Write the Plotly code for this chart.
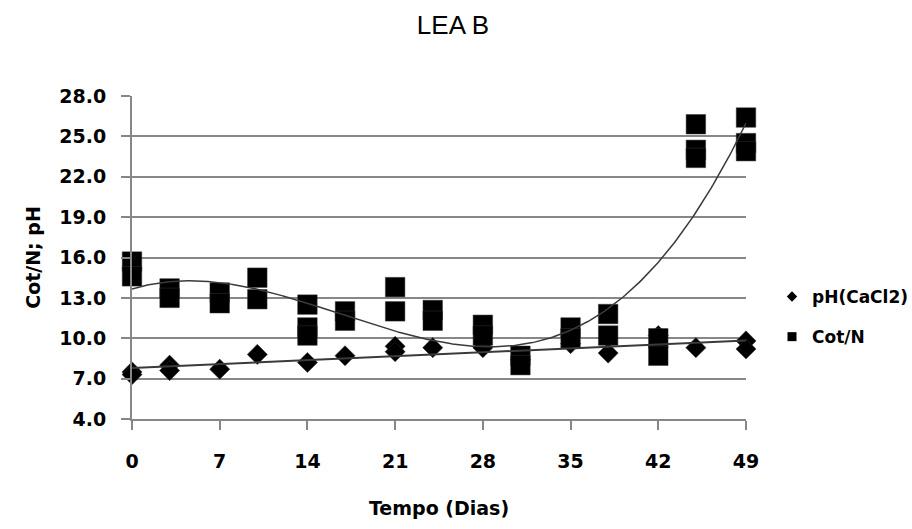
import numpy as np
import plotly.graph_objects as go

# Sampling days and replicate readings (flat lists: one entry per measurement)
ph_days = [0, 0, 3, 3, 7, 10, 14, 17, 21, 21, 24, 28, 31, 35, 38, 42, 45, 49, 49]
ph_vals = [7.5, 7.3, 8.0, 7.6, 7.7, 8.8, 8.2, 8.7, 9.4, 9.0, 9.3, 9.3, 8.4, 9.6, 8.9, 10.2, 9.3, 9.8, 9.2]

cotn_days = [0, 0, 3, 3, 7, 7, 10, 10, 14, 14, 14, 17, 17, 21, 21, 24, 24, 28, 28,
             31, 31, 35, 35, 38, 38, 42, 42, 45, 45, 45, 49, 49, 49]
cotn_vals = [15.7, 14.6, 13.7, 13.0, 13.4, 12.6, 14.5, 12.9, 12.5, 10.8, 10.2, 12.0, 11.3,
             13.8, 12.0, 12.1, 11.3, 11.0, 10.2, 8.7, 8.0, 10.8, 10.0, 11.8, 10.2, 10.0, 8.7,
             25.9, 24.0, 23.4, 26.4, 24.5, 23.9]

x_ticks = [0, 7, 14, 21, 28, 35, 42, 49]
y_ticks = [4.0, 7.0, 10.0, 13.0, 16.0, 19.0, 22.0, 25.0, 28.0]

PH_TREND_DEG = 1
COTN_TREND_DEG = 3

# Polynomial trend lines fitted to the measurements
xs = np.linspace(0, 49, 300)
ph_fit = np.polyval(np.polyfit(ph_days, ph_vals, PH_TREND_DEG), xs)
cotn_fit = np.polyval(np.polyfit(cotn_days, cotn_vals, COTN_TREND_DEG), xs)

GRID = "#878787"
TICK_FONT = dict(family="DejaVu Sans", size=19, color="black", weight="bold")

fig = go.Figure()

fig.add_trace(go.Scatter(x=ph_days, y=ph_vals, mode="markers", showlegend=False,
                         marker=dict(symbol="diamond", size=15.5, color="black",
                                     line=dict(width=0.5, color="#333333")),
                         cliponaxis=False))
fig.add_trace(go.Scatter(x=cotn_days, y=cotn_vals, mode="markers", showlegend=False,
                         marker=dict(symbol="square", size=19.5, color="black",
                                     line=dict(width=0.5, color="#333333")),
                         cliponaxis=False))
fig.add_trace(go.Scatter(x=xs, y=ph_fit, mode="lines", showlegend=False,
                         line=dict(color="#3a3a3a", width=2), hoverinfo="skip"))
fig.add_trace(go.Scatter(x=xs, y=cotn_fit, mode="lines", showlegend=False,
                         line=dict(color="#3a3a3a", width=1.5), hoverinfo="skip"))

# Legend entries with small symbols
fig.add_trace(go.Scatter(x=[None], y=[None], mode="markers", name="pH(CaCl2)",
                         legendgroup="ph",
                         marker=dict(symbol="diamond", size=8, color="black")))
fig.add_trace(go.Scatter(x=[None], y=[None], mode="markers", name="Cot/N",
                         legendgroup="cotn",
                         marker=dict(symbol="square", size=9, color="black")))

fig.update_layout(
    width=912, height=529,
    margin=dict(l=132, r=166, t=96, b=110, autoexpand=False),
    paper_bgcolor="white", plot_bgcolor="white",
    title=dict(text="LEA B", x=453 / 912, xanchor="center", xref="container",
               y=1 - 25 / 529, yanchor="middle", yref="container",
               font=dict(family="Liberation Sans", size=26, color="black")),
    legend=dict(x=(772 - 132) / 614, xanchor="left", y=1 - (279 - 96) / 323, yanchor="top",
                traceorder="grouped", tracegroupgap=15, itemwidth=30,
                font=dict(family="DejaVu Sans", size=17, color="black", weight="bold"),
                bgcolor="rgba(0,0,0,0)"),
    showlegend=True,
)

fig.update_xaxes(
    range=[0, 49], tickvals=x_ticks, ticktext=[str(v) for v in x_ticks],
    showgrid=False, zeroline=False,
    showline=True, linecolor=GRID, linewidth=2,
    ticks="outside", ticklen=9, tickwidth=2, tickcolor=GRID,
    tickfont=TICK_FONT, ticklabelstandoff=15,
    title=dict(text="Tempo (Dias)", standoff=31,
               font=dict(family="DejaVu Sans", size=19, color="black", weight="bold")),
)
fig.update_yaxes(
    range=[4, 28], tickvals=y_ticks, ticktext=[f"{v:.1f}" for v in y_ticks],
    showgrid=True, gridcolor=GRID, gridwidth=2, zeroline=False,
    showline=True, linecolor=GRID, linewidth=2,
    ticks="outside", ticklen=9, tickwidth=2, tickcolor=GRID,
    tickfont=TICK_FONT, ticklabelstandoff=11,
    title=dict(text="Cot/N; pH", standoff=14,
               font=dict(family="DejaVu Sans", size=19, color="black", weight="bold")),
)

fig.write_html("out.html")
